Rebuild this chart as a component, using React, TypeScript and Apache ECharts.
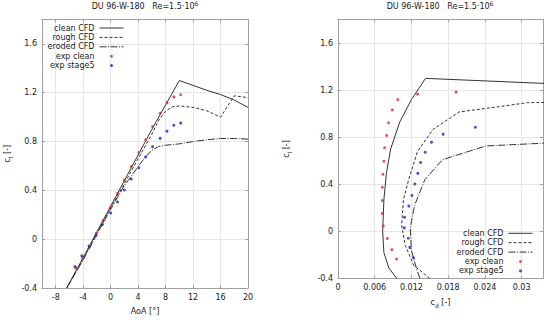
import React, { useEffect, useRef } from 'react';
import * as echarts from 'echarts';

// ---- text ----
const titleMain = 'DU 96-W-180   Re=1.5·10';
const titleSup = '6';
const seriesNames = ['clean CFD', 'rough CFD', 'eroded CFD', 'exp clean', 'exp stage5'];

// ---- ticks ----
const aoaTicks = [-8, -4, 0, 4, 8, 12, 16, 20];
const clTicks = [-0.4, 0, 0.4, 0.8, 1.2, 1.6];
const cdTicks = [0, 0.006, 0.012, 0.018, 0.024, 0.03];

// ---- left chart: cl vs AoA (CFD) ----
const cleanAoA = [-6.4, -4, -2, 0, 2, 4, 6, 8, 10, 12, 14, 16, 18, 20];
const cleanClA = [-0.4, -0.15, 0.06, 0.27, 0.48, 0.69, 0.9, 1.1, 1.3, 1.26, 1.22, 1.185, 1.14, 1.08];
const roughAoA = [-6.4, -4, -2, 0, 2, 4, 6, 7, 8, 9, 10, 12, 14, 16, 18, 20];
const roughClA = [-0.4, -0.16, 0.05, 0.255, 0.455, 0.66, 0.86, 0.975, 1.05, 1.085, 1.092, 1.08, 1.052, 1.0, 1.175, 1.16];
const erodedAoA = [-6.4, -4, -2, 0, 2, 3, 4, 5, 6, 7, 8, 10, 12, 14, 16, 18, 20];
const erodedClA = [-0.4, -0.17, 0.04, 0.245, 0.44, 0.515, 0.595, 0.67, 0.728, 0.76, 0.77, 0.781, 0.8, 0.815, 0.825, 0.825, 0.82];

// ---- right chart: cl vs cd (CFD) ----
const cleanCd = [0.0096, 0.0083, 0.0075, 0.0073, 0.0075, 0.0079, 0.0086, 0.0101, 0.012, 0.0143, 0.036];
const cleanClD = [-0.4, -0.31, -0.18, 0.0, 0.27, 0.49, 0.7, 0.93, 1.12, 1.3, 1.252];
const roughCd = [0.015, 0.0124, 0.011, 0.0104, 0.0107, 0.0116, 0.013, 0.0155, 0.0198, 0.0264, 0.031, 0.036];
const roughClD = [-0.4, -0.29, -0.12, 0.05, 0.27, 0.45, 0.68, 0.865, 1.015, 1.06, 1.094, 1.095];
const erodedCd = [0.0134, 0.0129, 0.012, 0.0118, 0.0125, 0.0142, 0.0171, 0.0242, 0.0334, 0.036];
const erodedClD = [-0.4, -0.33, -0.16, 0.03, 0.22, 0.44, 0.61, 0.726, 0.749, 0.752];

// ---- experiments ----
const expCleanAoA = [-5.1, -4.1, -3.1, -2.1, -1.1, 0.0, 1.0, 2.0, 3.0, 4.1, 5.1, 6.1, 7.2, 8.2, 9.2, 10.2];
const expCleanCl = [-0.235, -0.155, -0.06, 0.048, 0.152, 0.262, 0.375, 0.485, 0.596, 0.71, 0.815, 0.923, 1.032, 1.119, 1.166, 1.183];
const expCleanCd = [0.00957, 0.0088, 0.00805, 0.0074, 0.00724, 0.00724, 0.00724, 0.00734, 0.0075, 0.00761, 0.00794, 0.00827, 0.00887, 0.00978, 0.013, 0.0193];
const expStageAoA = [-5.2, -4.2, -3.15, -2.15, -1.2, 0.0, 1.0, 2.0, 3.0, 4.1, 5.1, 6.1, 7.2, 8.2, 9.2, 10.2];
const expStageCl = [-0.224, -0.136, -0.058, 0.03, 0.12, 0.215, 0.305, 0.403, 0.493, 0.585, 0.673, 0.758, 0.826, 0.885, 0.934, 0.951];
const expStageCd = [0.01234, 0.01174, 0.01148, 0.01083, 0.01088, 0.01158, 0.01207, 0.01256, 0.01305, 0.0135, 0.01425, 0.01528, 0.01718, 0.02245, null, null];

const FONT = 'DejaVu Sans';
const TXT = '#1a1a1a';
const BORDER = '#a0a0a0';
const GRIDC = '#e6e6e6';
const LINEC = '#333333';
const RED = '#e02a2a';
const BLUE = '#1f1fc8';

const zip = (xs: (number | null)[], ys: (number | null)[]) =>
  xs.map((x, i) => [x, ys[i]]).filter((p) => p[0] !== null && p[1] !== null);

const richName = {
  a: { fontSize: 8, lineHeight: 12, color: TXT, fontFamily: FONT },
  b: { fontSize: 6, lineHeight: 6, verticalAlign: 'bottom', color: TXT, fontFamily: FONT },
};

function mkAxis(gridIndex: number, position: string, min: number, max: number, ticks: number[], main: boolean, extra: any = {}) {
  return {
    type: 'value',
    gridIndex,
    position,
    min,
    max,
    axisLine: { show: true, onZero: false, lineStyle: { color: BORDER, width: 1 } },
    axisTick: { show: true, inside: true, length: 3, customValues: ticks, lineStyle: { color: BORDER } },
    axisLabel: {
      show: main,
      customValues: ticks,
      formatter: (v: number) => String(v),
      margin: 5,
      fontSize: 8,
      color: TXT,
      fontFamily: FONT,
    },
    splitLine: { show: main, lineStyle: { color: GRIDC, width: 1 } },
    ...extra,
  };
}

function lineS(name: string, xi: number, yi: number, data: any[], type: any) {
  return {
    type: 'line',
    name,
    xAxisIndex: xi,
    yAxisIndex: yi,
    data,
    symbol: 'none',
    showSymbol: false,
    silent: true,
    color: LINEC,
    lineStyle: { color: LINEC, width: 1, type },
    z: 2,
  };
}

function dotS(name: string, xi: number, yi: number, data: any[], color: string) {
  return {
    type: 'scatter',
    name,
    xAxisIndex: xi,
    yAxisIndex: yi,
    data,
    symbol: 'circle',
    symbolSize: 3,
    silent: true,
    itemStyle: { color },
    z: 3,
  };
}

const DASH: any = [3, 2];
const DASHDOT: any = [7, 1.5, 1, 1.5];

function legendAt(right: number, top: number) {
  return {
    data: [
      { name: seriesNames[0], itemStyle: { opacity: 0 } },
      { name: seriesNames[1], itemStyle: { opacity: 0 } },
      { name: seriesNames[2], itemStyle: { opacity: 0 } },
      { name: seriesNames[3] },
      { name: seriesNames[4] },
    ],
    orient: 'vertical',
    align: 'right',
    right,
    top,
    padding: 0,
    itemWidth: 24,
    itemHeight: 3,
    itemGap: 1.4,
    selectedMode: false,
    lineStyle: { width: 1 },
    textStyle: { fontSize: 8, color: TXT, fontFamily: FONT },
  };
}

function titleEl(cx: number) {
  return {
    type: 'text',
    x: cx,
    y: 0.5,
    style: {
      text: `{a|${titleMain}}{s|${titleSup}}`,
      align: 'center',
      verticalAlign: 'top',
      rich: {
        a: { fontSize: 8, lineHeight: 12, fill: TXT, fontFamily: FONT },
        s: { fontSize: 6, lineHeight: 6, verticalAlign: 'top', fill: TXT, fontFamily: FONT },
      },
    },
  };
}

export default function App() {
  const ref = useRef<HTMLDivElement>(null);
  useEffect(() => {
    if (!ref.current) return;
    const chart = echarts.init(ref.current, null, { renderer: 'svg' });
    const option: any = {
      animation: false,
      textStyle: { fontFamily: FONT },
      grid: [
        { left: 42, top: 19.5, width: 206, height: 269 },
        { left: 338, top: 19.5, width: 205, height: 259 },
      ],
      xAxis: [
        mkAxis(0, 'bottom', -10, 20, aoaTicks, true, {
          name: 'AoA [°]',
          nameLocation: 'middle',
          nameGap: 19,
          nameTextStyle: { fontSize: 8, color: TXT, fontFamily: FONT },
        }),
        mkAxis(0, 'top', -10, 20, aoaTicks, false),
        mkAxis(1, 'bottom', 0, 0.0335, cdTicks, true, {
          name: '{a|c}{b|d}{a| [-]}',
          nameLocation: 'middle',
          nameGap: 18,
          nameTextStyle: { rich: richName },
        }),
        mkAxis(1, 'top', 0, 0.0335, cdTicks, false),
      ],
      yAxis: [
        mkAxis(0, 'left', -0.4, 1.8, clTicks, true, {
          name: '{a|c}{b|l}{a| [-]}',
          nameLocation: 'middle',
          nameGap: 29,
          nameTextStyle: { rich: richName },
        }),
        mkAxis(0, 'right', -0.4, 1.8, clTicks, false),
        mkAxis(1, 'left', -0.4, 1.8, clTicks, true, {
          name: '{a|c}{b|l}{a| [-]}',
          nameLocation: 'middle',
          nameGap: 46,
          nameTextStyle: { rich: richName },
        }),
        mkAxis(1, 'right', -0.4, 1.8, clTicks, false),
      ],
      legend: [legendAt(426, 24), legendAt(17, 229.3)],
      graphic: [titleEl(145), titleEl(440)],
      series: [
        lineS(seriesNames[0], 0, 0, zip(cleanAoA, cleanClA), 'solid'),
        lineS(seriesNames[1], 0, 0, zip(roughAoA, roughClA), DASH),
        lineS(seriesNames[2], 0, 0, zip(erodedAoA, erodedClA), DASHDOT),
        dotS(seriesNames[3], 0, 0, zip(expCleanAoA, expCleanCl), RED),
        dotS(seriesNames[4], 0, 0, zip(expStageAoA, expStageCl), BLUE),
        lineS(seriesNames[0], 2, 2, zip(cleanCd, cleanClD), 'solid'),
        lineS(seriesNames[1], 2, 2, zip(roughCd, roughClD), DASH),
        lineS(seriesNames[2], 2, 2, zip(erodedCd, erodedClD), DASHDOT),
        dotS(seriesNames[3], 2, 2, zip(expCleanCd, expCleanCl), RED),
        dotS(seriesNames[4], 2, 2, zip(expStageCd, expStageCl), BLUE),
      ],
    };
    chart.setOption(option);
    return () => chart.dispose();
  }, []);
  return (
    <div
      ref={ref}
      style={{ position: 'absolute', left: 0, top: 0, width: 550, height: 320, background: '#fff' }}
    />
  );
}
